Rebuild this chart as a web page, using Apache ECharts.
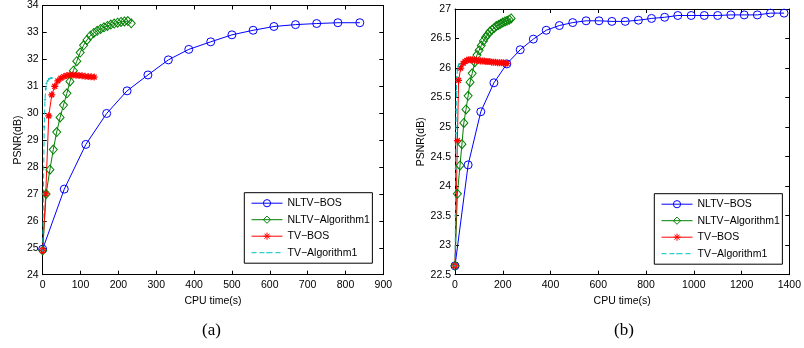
<!DOCTYPE html>
<html>
<head>
<meta charset="utf-8">
<script src="https://cdn.jsdelivr.net/npm/echarts@6/dist/echarts.min.js"></script>
<style>html,body{margin:0;padding:0;background:#fff;}#c{width:804px;height:348px;}</style>
</head>
<body>
<div id="c"></div>
<script>
// ---------- data: plot (a) ----------
const a_nltvBosX = [0, 57, 114, 169, 223, 278, 332, 386, 444, 500, 556, 611, 668, 724, 780, 838];
const a_nltvBosY = [24.95, 27.18, 28.84, 29.99, 30.83, 31.42, 31.98, 32.37, 32.65, 32.91, 33.08, 33.22, 33.29, 33.33, 33.36, 33.36];
const a_nltvAlgX = [0, 9, 19, 28, 37, 46, 55, 64, 72, 81, 90, 99, 108, 117, 126, 135, 144, 153, 162, 171, 180, 189, 198, 207, 216, 225, 234];
const a_nltvAlgY = [24.9, 27.0, 27.9, 28.65, 29.3, 29.84, 30.3, 30.74, 31.18, 31.58, 31.93, 32.25, 32.52, 32.72, 32.88, 32.98, 33.06, 33.13, 33.19, 33.24, 33.29, 33.33, 33.36, 33.39, 33.41, 33.42, 33.34];
const a_tvBosX = [0, 8, 16, 24, 32, 40, 48, 56, 64, 72, 80, 88, 96, 104, 112, 120, 128, 136];
const a_tvBosY = [24.9, 27.0, 29.9, 30.68, 31.0, 31.2, 31.3, 31.36, 31.4, 31.42, 31.42, 31.41, 31.4, 31.39, 31.37, 31.36, 31.35, 31.34];
const a_tvAlgX = [0, 2, 4, 6, 8, 10, 13, 16, 20, 24];
const a_tvAlgY = [24.9, 27.0, 29.5, 30.5, 30.9, 31.1, 31.2, 31.27, 31.3, 31.31];

// ---------- data: plot (b) ----------
const b_nltvBosX = [0, 55, 108, 163, 217, 273, 328, 382, 437, 493, 549, 603, 657, 713, 768, 823, 878, 933, 989, 1044, 1100, 1155, 1211, 1266, 1321, 1378];
const b_nltvBosY = [22.65, 24.36, 25.26, 25.75, 26.07, 26.31, 26.49, 26.64, 26.72, 26.77, 26.80, 26.80, 26.79, 26.79, 26.81, 26.84, 26.86, 26.89, 26.89, 26.89, 26.89, 26.9, 26.9, 26.9, 26.93, 26.93];
const b_nltvAlgX = [0, 10, 21, 29, 37, 46, 55, 63, 72, 83, 92, 101, 110, 119, 128, 137, 146, 155, 164, 173, 182, 191, 200, 209, 218, 227, 235];
const b_nltvAlgY = [22.65, 23.87, 24.35, 24.71, 25.07, 25.30, 25.53, 25.76, 25.91, 26.10, 26.22, 26.30, 26.38, 26.46, 26.52, 26.57, 26.62, 26.65, 26.68, 26.71, 26.73, 26.75, 26.77, 26.79, 26.80, 26.82, 26.84];
const b_tvBosX = [0, 10, 15, 24, 34, 42, 50, 58, 66, 74, 82, 90, 98, 106, 114, 122, 130, 138, 146, 154, 162, 170, 178, 186, 194, 202, 210, 218];
const b_tvBosY = [22.65, 24.77, 25.79, 26.0, 26.08, 26.11, 26.13, 26.14, 26.14, 26.14, 26.13, 26.13, 26.13, 26.12, 26.12, 26.12, 26.11, 26.11, 26.11, 26.10, 26.10, 26.10, 26.09, 26.09, 26.09, 26.09, 26.08, 26.08];
const b_tvAlgX = [0, 2, 3, 4, 5, 6, 8, 10, 13, 16, 19];
const b_tvAlgY = [22.65, 23.5, 24.3, 24.9, 25.3, 25.6, 25.85, 25.97, 26.03, 26.06, 26.07];

// ---------- labels ----------
const seriesNames = ['NLTV\u2212BOS', 'NLTV\u2212Algorithm1', 'TV\u2212BOS', 'TV\u2212Algorithm1'];
const xAxisName = 'CPU time(s)';
const yAxisName = 'PSNR(dB)';
const captions = ['(a)', '(b)'];
const axisRanges = [
  {xmin: 0, xmax: 900, xint: 100, ymin: 24, ymax: 34, yint: 1},
  {xmin: 0, xmax: 1400, xint: 200, ymin: 22.5, ymax: 27, yint: 0.5}
];

const zip = (xs, ys) => xs.map((x, i) => [x, ys[i]]);
const FONT = 'Liberation Sans, Arial, sans-serif';
const colors = ['#0000ff', '#008000', '#ff0000', '#00bfbf'];
const starPath = 'path://M5,0L5,10M0,5L10,5M1.5,1.5L8.5,8.5M1.5,8.5L8.5,1.5';
const dotPath = 'path://M0,0M10,10M5,4A1,1,0,1,1,5,6A1,1,0,1,1,5,4Z';

function mkSeries(gi, data) {
  const base = {type: 'line', xAxisIndex: gi * 2, yAxisIndex: gi * 2, silent: true, animation: false};
  return [
    Object.assign({}, base, {name: seriesNames[0], data: data[0], symbol: 'circle', symbolSize: 8,
      lineStyle: {color: colors[0], width: 1}, itemStyle: {color: 'rgba(0,0,0,0)', borderColor: colors[0], borderWidth: 1}}),
    Object.assign({}, base, {name: seriesNames[1], data: data[1], symbol: 'diamond', symbolSize: [8, 9],
      lineStyle: {color: colors[1], width: 1}, itemStyle: {color: 'rgba(0,0,0,0)', borderColor: colors[1], borderWidth: 1}}),
    Object.assign({}, base, {name: seriesNames[2], data: data[2], symbol: starPath, symbolSize: 7,
      lineStyle: {color: colors[2], width: 1}, itemStyle: {color: 'rgba(0,0,0,0)', borderColor: colors[2], borderWidth: 1.3}}),
    Object.assign({}, base, {name: seriesNames[3], data: data[3], symbol: dotPath, symbolSize: 10,
      lineStyle: {color: colors[3], width: 1, type: [5, 3]}, itemStyle: {color: colors[3], borderWidth: 0}})
  ];
}

const grids = [
  {left: 42.7, top: 5.3, width: 340.6, height: 269.4},
  {left: 455, top: 9, width: 337.3, height: 265.7}
];
const yNameGap = [19.5, 28.3];

const xAxes = [], yAxes = [];
grids.forEach((g, gi) => {
  const r = axisRanges[gi];
  const common = {axisLine: {show: true, onZero: false, lineStyle: {color: '#000', width: 1}},
    axisTick: {inside: true, length: 4, lineStyle: {color: '#000'}}, splitLine: {show: false}};
  xAxes.push(Object.assign({}, common, {type: 'value', gridIndex: gi, min: r.xmin, max: r.xmax, interval: r.xint,
    position: 'bottom', name: xAxisName, nameLocation: 'middle', nameGap: 17,
    nameTextStyle: {fontFamily: FONT, fontSize: 10.5, color: '#000'},
    axisLabel: {fontFamily: FONT, fontSize: 10.5, color: '#000', margin: 5, formatter: v => String(v)}}));
  xAxes.push(Object.assign({}, common, {type: 'value', gridIndex: gi, min: r.xmin, max: r.xmax, interval: r.xint,
    position: 'top', axisLabel: {show: false}}));
  yAxes.push(Object.assign({}, common, {type: 'value', gridIndex: gi, min: r.ymin, max: r.ymax, interval: r.yint,
    position: 'left', name: yAxisName, nameLocation: 'middle', nameGap: yNameGap[gi],
    nameTextStyle: {fontFamily: FONT, fontSize: 10.5, color: '#000'},
    axisLabel: {fontFamily: FONT, fontSize: 10.5, color: '#000', margin: 4, formatter: v => String(v)}}));
  yAxes.push(Object.assign({}, common, {type: 'value', gridIndex: gi, min: r.ymin, max: r.ymax, interval: r.yint,
    position: 'right', axisLabel: {show: false}}));
});

const series = [].concat(
  mkSeries(0, [zip(a_nltvBosX, a_nltvBosY), zip(a_nltvAlgX, a_nltvAlgY), zip(a_tvBosX, a_tvBosY), zip(a_tvAlgX, a_tvAlgY)]),
  mkSeries(1, [zip(b_nltvBosX, b_nltvBosY), zip(b_nltvAlgX, b_nltvAlgY), zip(b_tvBosX, b_tvBosY), zip(b_tvAlgX, b_tvAlgY)])
);

const legendCommon = {orient: 'vertical', data: seriesNames, itemWidth: 31, itemHeight: 9, itemGap: 5.5,
  padding: [5, 2.5, 5, 6.7], borderColor: '#000', borderWidth: 1, backgroundColor: '#fff', borderRadius: 0,
  lineStyle: {width: 1}, itemStyle: {borderWidth: 1},
  textStyle: {fontFamily: FONT, fontSize: 10.5, color: '#000', padding: [0, 0, 0, 0]}, selectedMode: false};

const chart = echarts.init(document.getElementById('c'), null, {renderer: 'canvas'});
chart.setOption({
  animation: false,
  backgroundColor: '#fff',
  grid: grids,
  xAxis: xAxes,
  yAxis: yAxes,
  legend: [
    Object.assign({}, legendCommon, {left: 244.3, top: 192.7}),
    Object.assign({}, legendCommon, {left: 654.3, top: 193.7})
  ],
  graphic: [
    {type: 'text', left: 202, top: 322.5, style: {text: captions[0], font: '17px "Liberation Serif", "Times New Roman", serif', fill: '#000'}},
    {type: 'text', left: 614, top: 322.5, style: {text: captions[1], font: '17px "Liberation Serif", "Times New Roman", serif', fill: '#000'}}
  ],
  series: series
});
</script>
</body>
</html>
